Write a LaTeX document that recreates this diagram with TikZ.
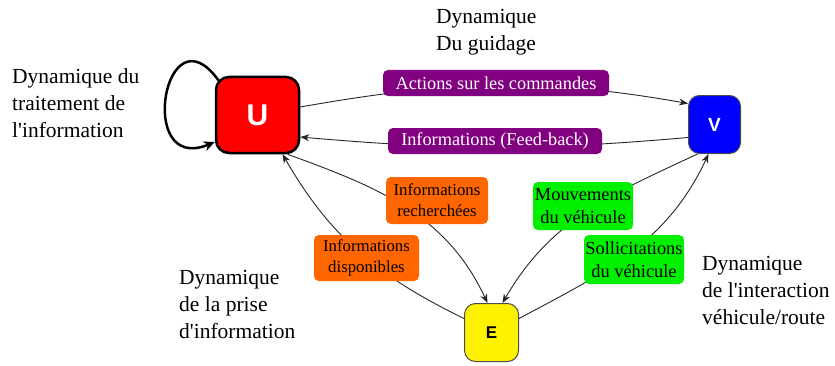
\documentclass[tikz,border=0pt]{standalone}
\usepackage{fontspec}
\setmainfont{Liberation Serif}
\newfontfamily\boxfont{Liberation Sans}
\usetikzlibrary{arrows.meta}
\definecolor{labpurple}{RGB}{128,0,128}
\definecolor{laborange}{RGB}{255,102,0}
\definecolor{labgreen}{RGB}{0,240,0}
\begin{document}
\begin{tikzpicture}[x=1pt,y=1pt,
  mainbox/.style={rounded corners=13pt, inner sep=0pt},
  lab/.style={rounded corners=5pt, inner sep=0pt, align=center},
  conn/.style={draw=black!85, line width=0.9pt, -{Stealth[length=9pt,width=7pt]}},
  dyn/.style={font=\fontsize{21.5}{27}\selectfont, align=left, anchor=west, inner sep=0pt}]
\useasboundingbox (0,0) rectangle (835,365);
% main boxes
\node[mainbox, draw=black, fill=red, line width=2.5pt, minimum width=83pt, minimum height=76pt,
  text=white, font=\boxfont\bfseries\fontsize{30}{30}\selectfont] (U) at (257.5,250) {U};
\node[mainbox, draw=black!70, fill=blue, line width=1pt, minimum width=52pt, minimum height=58pt,
  rounded corners=11pt, text=white, font=\boxfont\bfseries\fontsize{19}{19}\selectfont] (V) at (714.5,240.5) {V};
\node[mainbox, draw=black!70, fill=yellow, line width=1pt, minimum width=54pt, minimum height=58pt,
  rounded corners=11pt, text=black, font=\boxfont\bfseries\fontsize{17}{17}\selectfont] (E) at (491.5,32.5) {E};
% connectors
\draw[line width=2.5pt, -{Stealth[length=11pt,width=10pt]}]
  ([xshift=4pt,yshift=-5pt]U.north west) .. controls (165,360) and (135,190) .. ([yshift=-27pt]U.west);
\draw[conn] ([yshift=8pt]U.east) to[out=10,in=170] ([yshift=21pt]V.west);
\draw[conn] ([yshift=-13pt]V.west) to[out=185,in=-5] ([yshift=-22pt]U.east);
\draw[conn] ([yshift=14pt]E.west) to[out=154,in=300] ([xshift=25pt]U.south);
\draw[conn] ([xshift=30pt]U.south) to[out=-20,in=115] ([xshift=-4pt]E.north);
\draw[conn] ([xshift=-17pt]V.south) to[out=205,in=60] ([xshift=11pt]E.north);
\draw[conn] ([yshift=14pt]E.east) to[out=28,in=245] ([xshift=-6pt]V.south);
% edge labels
\node[lab, fill=labpurple, text=white, minimum width=226pt, minimum height=26pt,
  font=\fontsize{18.3}{22}\selectfont] (act) at (496,282) {Actions sur les commandes};
\node[lab, fill=labpurple, text=white, minimum width=214pt, minimum height=26pt,
  font=\fontsize{18.3}{22}\selectfont] (fb) at (495,224) {Informations (Feed-back)};
\node[lab, fill=laborange, minimum width=102pt, minimum height=47pt,
  font=\fontsize{16.8}{21}\selectfont] (rech) at (437,164.5) {Informations\\recherchées};
\node[lab, fill=laborange, minimum width=105pt, minimum height=46pt,
  font=\fontsize{16.8}{21}\selectfont] (disp) at (366.5,107) {Informations\\disponibles};
\node[lab, fill=labgreen, minimum width=100pt, minimum height=48pt,
  font=\fontsize{18.4}{23}\selectfont] (mouv) at (583,159) {Mouvements\\du véhicule};
\node[lab, fill=labgreen, minimum width=100pt, minimum height=49pt,
  font=\fontsize{18.4}{23}\selectfont] (soll) at (634,105.5) {Sollicitations\\du véhicule};
% free texts
\node[dyn] (t1) at (12,262) {Dynamique du\\traitement de\\l\textquotesingle information};
\node[dyn] (t2) at (436,332.5) {Dynamique\\Du guidage};
\node[dyn] (t3) at (179,61) {Dynamique\\de la prise\\d\textquotesingle information};
\node[dyn] (t4) at (702,75) {Dynamique\\de l\textquotesingle interaction\\véhicule/route};
\end{tikzpicture}
\end{document}
